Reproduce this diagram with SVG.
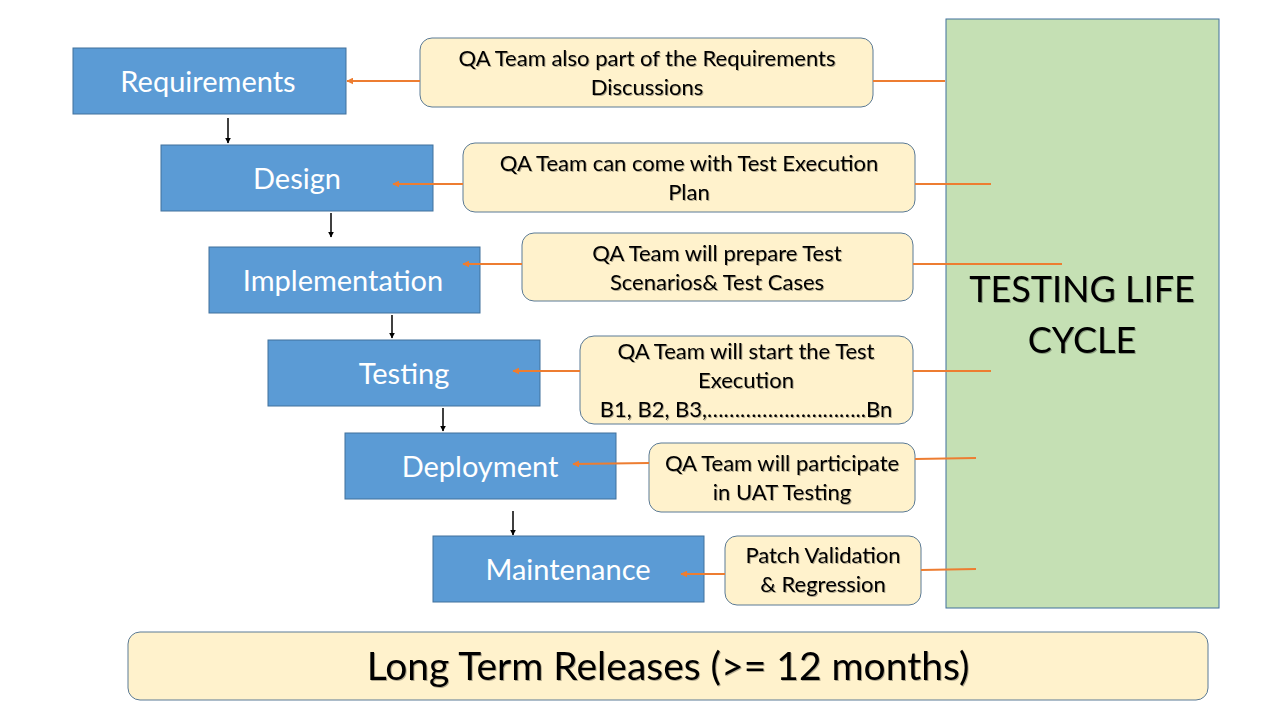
<svg xmlns="http://www.w3.org/2000/svg" width="1280" height="720" viewBox="0 0 1280 720">
<defs>
<style>
.step{fill:#5B9BD5;stroke:#41719C;stroke-width:1}
.step-t{fill:#fff;font-family:Lato,"Liberation Sans",Arial,sans-serif;font-size:29px;text-anchor:middle;dominant-baseline:central}
.note{fill:#FFF2CC;stroke:#5A7A96;stroke-width:1}
.note-t{fill:#000;font-family:Lato,"Liberation Sans",Arial,sans-serif;font-size:22px;text-anchor:middle;dominant-baseline:central;filter:url(#sh)}
.big-t{fill:#000;font-family:Lato,"Liberation Sans",Arial,sans-serif;font-size:36px;text-anchor:middle;dominant-baseline:central;filter:url(#sh)}
.flow{stroke:#000;stroke-width:1.5;fill:none;marker-end:url(#blk)}
.qa{stroke:#ED7D31;stroke-width:2;fill:none}
.qa-a{stroke:#ED7D31;stroke-width:2;fill:none;marker-end:url(#org)}
</style>
<filter id="sh" x="-5%" y="-20%" width="110%" height="140%"><feDropShadow dx="1" dy="1" stdDeviation="0.6" flood-color="#000" flood-opacity="0.3"/></filter>
<marker id="blk" viewBox="0 0 10 10" refX="9" refY="5" markerWidth="6" markerHeight="6" orient="auto" markerUnits="userSpaceOnUse"><path d="M0,0 L10,5 L0,10 z" fill="#000"/></marker>
<marker id="org" viewBox="0 0 10 10" refX="9" refY="5" markerWidth="7" markerHeight="7" orient="auto" markerUnits="userSpaceOnUse"><path d="M0,0 L10,5 L0,10 z" fill="#ED7D31"/></marker>
</defs>
<rect width="1280" height="720" fill="#fff"/>

<g id="cycle">
<rect x="946" y="19" width="273" height="589" fill="#C5E0B4" stroke="#41719C" stroke-width="1"/>
<text class="big-t" x="1082" y="288">TESTING LIFE</text>
<text class="big-t" x="1082" y="339">CYCLE</text>
</g>

<g id="requirements"><rect class="step" x="73" y="48" width="273" height="66"/><text class="step-t" x="208" y="80">Requirements</text></g>
<g id="design"><rect class="step" x="161" y="145" width="272" height="66"/><text class="step-t" x="297" y="177">Design</text></g>
<g id="implementation"><rect class="step" x="209" y="247" width="271" height="66"/><text class="step-t" x="343" y="279">Implementation</text></g>
<g id="testing"><rect class="step" x="268" y="340" width="272" height="66"/><text class="step-t" x="404" y="372">Testing</text></g>
<g id="deployment"><rect class="step" x="345" y="433" width="271" height="66"/><text class="step-t" x="480" y="465">Deployment</text></g>
<g id="maintenance"><rect class="step" x="433" y="536" width="271" height="66"/><text class="step-t" x="568" y="568">Maintenance</text></g>

<g id="note-requirements"><rect class="note" x="420" y="38" width="453" height="69" rx="12"/><text class="note-t" x="647" y="57">QA Team also part of the Requirements</text><text class="note-t" x="647" y="86">Discussions</text></g>
<g id="note-design"><rect class="note" x="463" y="143" width="452" height="69" rx="12"/><text class="note-t" x="689" y="162">QA Team can come with Test Execution</text><text class="note-t" x="689" y="191">Plan</text></g>
<g id="note-implementation"><rect class="note" x="522" y="233" width="391" height="68" rx="12"/><text class="note-t" x="717" y="252">QA Team will prepare Test</text><text class="note-t" x="717" y="281">Scenarios&amp; Test Cases</text></g>
<g id="note-testing"><rect class="note" x="580" y="336" width="333" height="88" rx="14"/><text class="note-t" x="746" y="350">QA Team will start the Test</text><text class="note-t" x="746" y="379">Execution</text><text class="note-t" x="746" y="408">B1, B2, B3,………………………..Bn</text></g>
<g id="note-deployment"><rect class="note" x="649" y="443" width="266" height="69" rx="12"/><text class="note-t" x="782" y="462">QA Team will participate</text><text class="note-t" x="782" y="491">in UAT Testing</text></g>
<g id="note-maintenance"><rect class="note" x="725" y="536" width="196" height="69" rx="12"/><text class="note-t" x="823" y="554">Patch Validation</text><text class="note-t" x="823" y="583">&amp; Regression</text></g>

<g id="releases"><rect class="note" x="128" y="632" width="1080" height="68" rx="12"/><text class="big-t" x="668" y="665" style="font-size:39px">Long Term Releases (&gt;= 12 months)</text></g>

<g id="connectors">
<line class="flow" x1="228" y1="118" x2="228" y2="143"/>
<line class="flow" x1="331" y1="213" x2="331" y2="237"/>
<line class="flow" x1="392" y1="315" x2="392" y2="338"/>
<line class="flow" x1="443" y1="408" x2="443" y2="431"/>
<line class="flow" x1="513" y1="511" x2="513" y2="535"/>
<line class="qa-a" x1="420" y1="81" x2="347" y2="81"/>
<line class="qa-a" x1="463" y1="184" x2="393" y2="184"/>
<line class="qa-a" x1="522" y1="264" x2="463" y2="264"/>
<line class="qa-a" x1="580" y1="371" x2="513" y2="371"/>
<line class="qa-a" x1="649" y1="463" x2="573" y2="464"/>
<line class="qa-a" x1="725" y1="574" x2="681" y2="574"/>
<line class="qa" x1="873" y1="81" x2="945" y2="81"/>
<line class="qa" x1="915" y1="184" x2="991" y2="184"/>
<line class="qa" x1="913" y1="264" x2="1062" y2="264"/>
<line class="qa" x1="913" y1="371" x2="991" y2="371"/>
<line class="qa" x1="915" y1="459" x2="976" y2="458"/>
<line class="qa" x1="921" y1="570" x2="976" y2="569"/>
</g>
</svg>
